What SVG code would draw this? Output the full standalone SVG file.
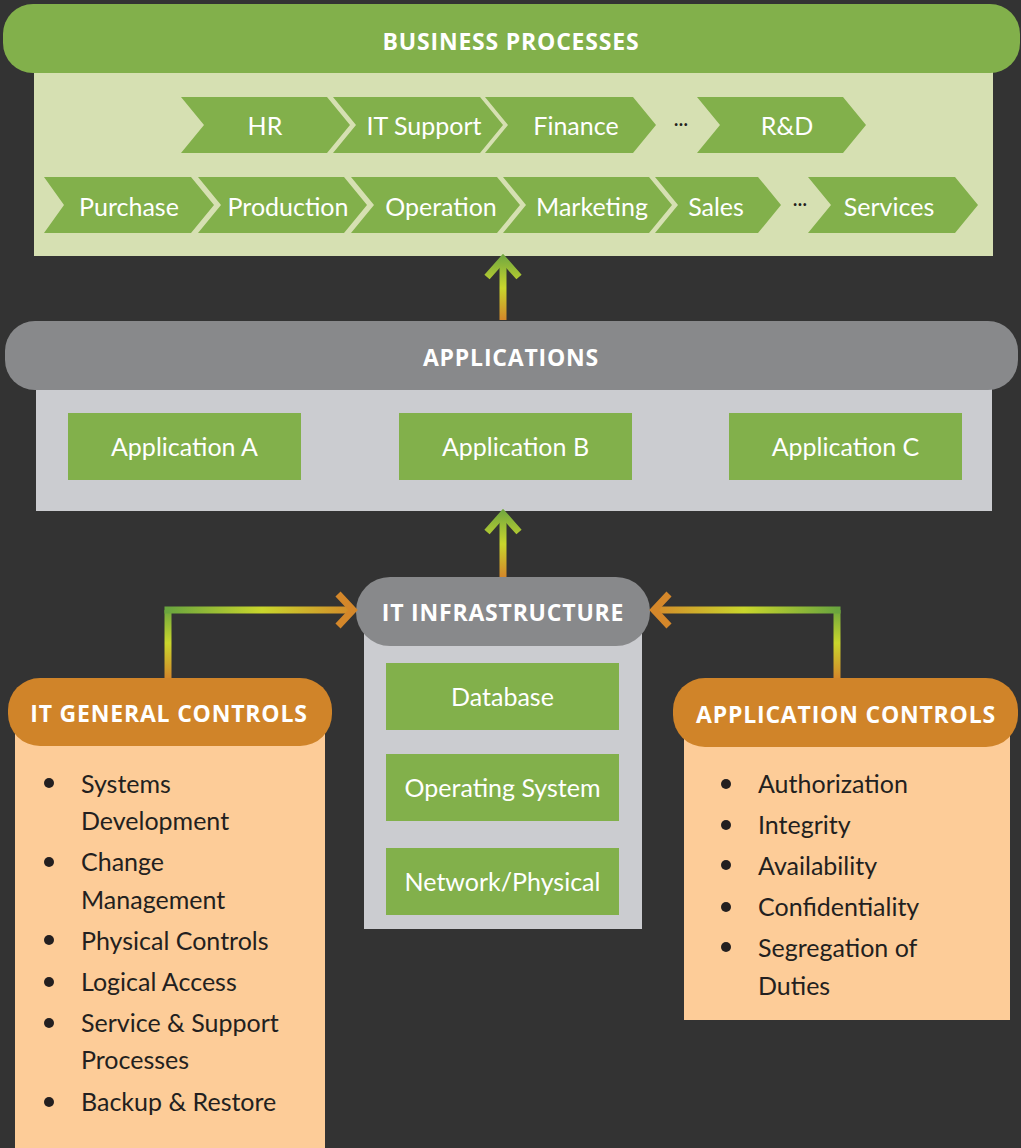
<svg xmlns="http://www.w3.org/2000/svg" width="1021" height="1148" viewBox="0 0 1021 1148">
<style>
.hdr{font-family:"Open Sans","Liberation Sans",sans-serif;font-weight:700;font-size:23px;letter-spacing:0.8px;fill:#ffffff;text-anchor:middle}
.lbl{font-family:Lato,"Open Sans","Liberation Sans",sans-serif;font-size:25px;fill:#ffffff;text-anchor:middle}
.li{font-family:Lato,"Open Sans","Liberation Sans",sans-serif;font-size:25px;fill:#231f20}
.chev,.gbox{fill:#82b04b}
.dots{font-family:Lato,"Liberation Sans",sans-serif;font-size:18px;font-weight:700;fill:#231f20;text-anchor:middle}
.bul{fill:#231f20}
.conn{fill:none;stroke-width:7;stroke-linejoin:miter}
</style>
<defs>
<linearGradient id="gUp1" gradientUnits="userSpaceOnUse" x1="0" y1="320" x2="0" y2="256">
<stop offset="0" stop-color="#d4872a"/><stop offset="0.5" stop-color="#c9d62c"/><stop offset="1" stop-color="#74a93f"/>
</linearGradient>
<linearGradient id="gUp2" gradientUnits="userSpaceOnUse" x1="0" y1="577" x2="0" y2="511">
<stop offset="0" stop-color="#d4872a"/><stop offset="0.5" stop-color="#c9d62c"/><stop offset="1" stop-color="#74a93f"/>
</linearGradient>
<linearGradient id="gLv" gradientUnits="userSpaceOnUse" x1="0" y1="678" x2="0" y2="608">
<stop offset="0" stop-color="#d4872a"/><stop offset="0.5" stop-color="#c9d62c"/><stop offset="1" stop-color="#6aa53e"/>
</linearGradient>
<linearGradient id="gLh" gradientUnits="userSpaceOnUse" x1="168" y1="0" x2="356" y2="0">
<stop offset="0" stop-color="#6aa53e"/><stop offset="0.5" stop-color="#c9d62c"/><stop offset="1" stop-color="#d4872a"/>
</linearGradient>
<linearGradient id="gRh" gradientUnits="userSpaceOnUse" x1="837" y1="0" x2="651" y2="0">
<stop offset="0" stop-color="#6aa53e"/><stop offset="0.5" stop-color="#c9d62c"/><stop offset="1" stop-color="#d4872a"/>
</linearGradient>
</defs>
<rect x="0" y="0" width="1021" height="1148" fill="#333333"/>

<g id="business-processes">
<rect x="34" y="60" width="959" height="196" fill="#d6e0b2"/>
<rect x="3" y="4" width="1017" height="69" rx="30" ry="30" fill="#82b04b"/>
<text class="hdr" x="511" y="50">BUSINESS PROCESSES</text>
</g>

<g id="chevron-hr"><polygon class="chev" points="181,97 327,97 350,125 327,153 181,153 204,125"/><text class="lbl" x="265" y="135">HR</text></g>
<g id="chevron-it-support"><polygon class="chev" points="333,97 480,97 503,125 480,153 333,153 356,125"/><text class="lbl" x="424" y="135">IT Support</text></g>
<g id="chevron-finance"><polygon class="chev" points="485,97 633,97 656,125 633,153 485,153 508,125"/><text class="lbl" x="576" y="135">Finance</text></g>
<text class="dots" x="681" y="126">…</text>
<g id="chevron-rd"><polygon class="chev" points="697,97 843,97 866,125 843,153 697,153 720,125"/><text class="lbl" x="787" y="135">R&amp;D</text></g>

<g id="chevron-purchase"><polygon class="chev" points="44,177 191,177 214,205 191,233 44,233 64,205"/><text class="lbl" x="129" y="216">Purchase</text></g>
<g id="chevron-production"><polygon class="chev" points="198,177 344,177 367,205 344,233 198,233 221,205"/><text class="lbl" x="288" y="216">Production</text></g>
<g id="chevron-operation"><polygon class="chev" points="351,177 497,177 520,205 497,233 351,233 374,205"/><text class="lbl" x="441" y="216">Operation</text></g>
<g id="chevron-marketing"><polygon class="chev" points="503,177 649,177 672,205 649,233 503,233 526,205"/><text class="lbl" x="592" y="216">Marketing</text></g>
<g id="chevron-sales"><polygon class="chev" points="655,177 758,177 781,205 758,233 655,233 678,205"/><text class="lbl" x="716" y="216">Sales</text></g>
<text class="dots" x="800" y="206">…</text>
<g id="chevron-services"><polygon class="chev" points="808,177 955,177 978,205 955,233 808,233 831,205"/><text class="lbl" x="889" y="216">Services</text></g>

<g id="applications">
<rect x="36" y="380" width="956" height="131" fill="#cbccd0"/>
<rect x="5" y="321" width="1013" height="69" rx="30" ry="30" fill="#88898b"/>
<text class="hdr" x="511" y="366">APPLICATIONS</text>
</g>
<g id="application-a"><rect class="gbox" x="68" y="413" width="233" height="67"/><text class="lbl" x="184.5" y="456">Application A</text></g>
<g id="application-b"><rect class="gbox" x="399" y="413" width="233" height="67"/><text class="lbl" x="515.5" y="456">Application B</text></g>
<g id="application-c"><rect class="gbox" x="729" y="413" width="233" height="67"/><text class="lbl" x="845.5" y="456">Application C</text></g>

<g id="it-infrastructure">
<rect x="364" y="620" width="278" height="309" fill="#cbccd0"/>
<rect x="356" y="577" width="294" height="69" rx="34" ry="34" fill="#88898b"/>
<text class="hdr" x="503" y="621">IT INFRASTRUCTURE</text>
</g>
<g id="database"><rect class="gbox" x="386" y="663" width="233" height="67"/><text class="lbl" x="502.5" y="706">Database</text></g>
<g id="operating-system"><rect class="gbox" x="386" y="754" width="233" height="67"/><text class="lbl" x="502.5" y="797">Operating System</text></g>
<g id="network-physical"><rect class="gbox" x="386" y="848" width="233" height="67"/><text class="lbl" x="502.5" y="891">Network/Physical</text></g>

<g id="it-general-controls">
<rect x="15" y="720" width="310" height="428" fill="#fdcc98"/>
<rect x="8" y="678" width="324" height="68" rx="32" ry="32" fill="#d08429"/>
<text class="hdr" x="169" y="722">IT GENERAL CONTROLS</text>
<circle class="bul" cx="49" cy="783" r="5"/><text class="li" x="81" y="793">Systems</text>
<text class="li" x="81" y="830">Development</text>
<circle class="bul" cx="49" cy="862" r="5"/><text class="li" x="81" y="871">Change</text>
<text class="li" x="81" y="909">Management</text>
<circle class="bul" cx="49" cy="940" r="5"/><text class="li" x="81" y="950">Physical Controls</text>
<circle class="bul" cx="49" cy="982" r="5"/><text class="li" x="81" y="991">Logical Access</text>
<circle class="bul" cx="49" cy="1023" r="5"/><text class="li" x="81" y="1032">Service &amp; Support</text>
<text class="li" x="81" y="1069">Processes</text>
<circle class="bul" cx="49" cy="1102" r="5"/><text class="li" x="81" y="1111">Backup &amp; Restore</text>
</g>

<g id="application-controls">
<rect x="684" y="720" width="326" height="300" fill="#fdcc98"/>
<rect x="673" y="678" width="345" height="69" rx="32" ry="32" fill="#d08429"/>
<text class="hdr" x="846" y="723">APPLICATION CONTROLS</text>
<circle class="bul" cx="726" cy="784" r="5"/><text class="li" x="758" y="793">Authorization</text>
<circle class="bul" cx="726" cy="825" r="5"/><text class="li" x="758" y="834">Integrity</text>
<circle class="bul" cx="726" cy="865" r="5"/><text class="li" x="758" y="875">Availability</text>
<circle class="bul" cx="726" cy="907" r="5"/><text class="li" x="758" y="916">Confidentiality</text>
<circle class="bul" cx="726" cy="947" r="5"/><text class="li" x="758" y="957">Segregation of</text>
<text class="li" x="758" y="995">Duties</text>
</g>

<g id="connectors">
<path class="conn" stroke="url(#gUp1)" d="M503,320 V260"/>
<path class="conn" stroke="url(#gUp1)" d="M487,277 L503,259 L519,277"/>
<path class="conn" stroke="url(#gUp2)" d="M503,577 V515"/>
<path class="conn" stroke="url(#gUp2)" d="M487,532 L503,514 L519,532"/>
<path class="conn" stroke="url(#gLv)" d="M168,678 V610"/>
<path class="conn" stroke="url(#gLh)" d="M164.5,610 H352"/>
<path class="conn" stroke="#d4872a" d="M338,594 L353,610 L338,626"/>
<path class="conn" stroke="url(#gLv)" d="M837,678 V610"/>
<path class="conn" stroke="url(#gRh)" d="M840.5,610 H655"/>
<path class="conn" stroke="#d4872a" d="M669,594 L654,610 L669,626"/>
</g>
</svg>
